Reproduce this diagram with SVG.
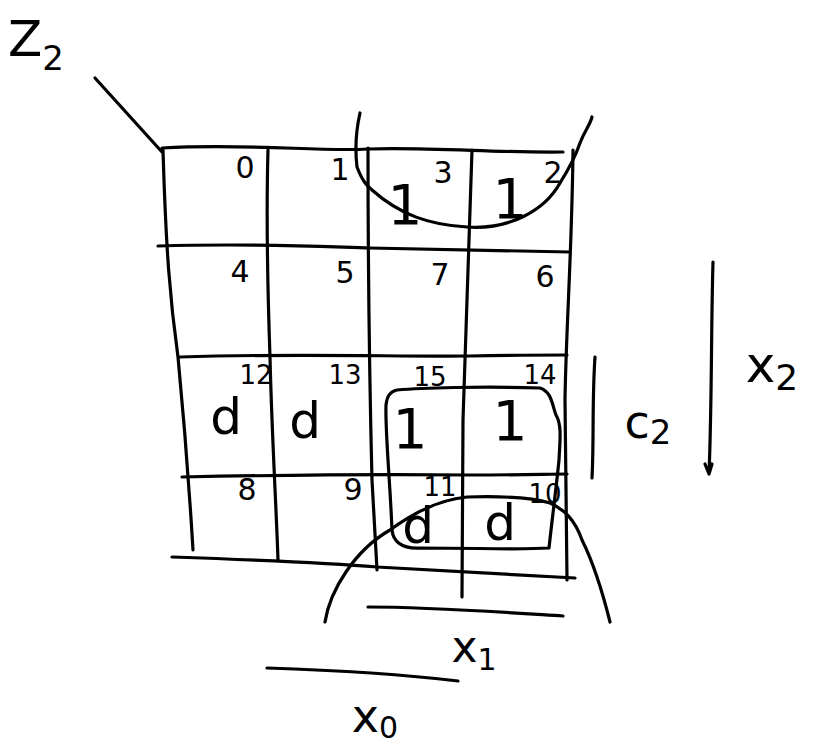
<svg xmlns="http://www.w3.org/2000/svg" width="819" height="744" viewBox="0 0 819 744">
<style>
.s{fill:none;stroke:#000;stroke-width:3.2;stroke-linecap:round;stroke-linejoin:round}
text{font-family:"DejaVu Sans","Liberation Sans",sans-serif;fill:#000;text-anchor:middle}
.n{font-size:30px}
.b{font-size:55px}
.d{font-size:50px}
.sm{font-size:26px}
</style>
<rect width="819" height="744" fill="#fff"/>
<g id="grid">
<path class="s" d="M95,78 L162,152"/>
<path class="s" d="M162,148 C250,143 320,152 368,149 C430,147 500,153 563,152"/>
<path class="s" d="M158,246 C260,243 330,247 370,248 C450,250 510,251 570,252"/>
<path class="s" d="M180,357 C300,353 400,357 470,356 C510,355 545,355 567,355"/>
<path class="s" d="M182,477 C280,475 380,474 470,475 C520,475 550,474 567,474"/>
<path class="s" d="M172,557 C260,560 330,563 377,567 C460,572 530,575 575,578"/>
<path class="s" d="M163,150 C166,250 170,300 178,357 C185,430 190,500 193,550"/>
<path class="s" d="M268,150 C266,220 268,300 270,357 C272,440 276,500 278,560"/>
<path class="s" d="M368,148 C368,250 370,400 372,480 C374,520 376,550 377,570"/>
<path class="s" d="M472,150 C469,250 465,350 463,420 C462,500 462,560 462,597"/>
<path class="s" d="M573,150 C572,250 566,330 565,400 C566,480 567,540 567,580"/>
</g>
<g id="groups">
<path class="s" d="M360,113 C355,135 355,150 357,167 C362,180 366,185 372,190 C400,215 430,225 467,227 C510,230 545,210 560,183 C570,167 576,155 580,143 C585,130 590,125 592,117"/>
<path class="s" d="M397,390 C420,388 480,386 540,388 C552,392 552,405 556,415 C562,425 560,440 559,460 C556,490 552,520 549,548 C520,550 480,548 420,548 C400,549 393,540 392,530 C390,480 385,430 386,405 C387,395 391,391 397,390"/>
<path class="s" d="M325,622 C330,590 355,550 390,530 C420,508 445,499 467,497 C500,496 530,497 550,503 C565,510 575,520 582,540 C592,560 602,590 610,622"/>
</g>
<g id="cells">
<text class="n" x="245" y="178">0</text>
<text class="n" x="340" y="180">1</text>
<text class="n" x="443" y="183">3</text>
<text class="n" x="553" y="183">2</text>
<text class="b" x="405" y="224">1</text>
<text class="b" x="510" y="218">1</text>
<text class="n" x="240" y="282">4</text>
<text class="n" x="345" y="283">5</text>
<text class="n" x="440" y="285">7</text>
<text class="n" x="545" y="287">6</text>
<text class="sm" x="256" y="384">12</text>
<text class="d" x="226" y="434">d</text>
<text class="sm" x="345" y="384">13</text>
<text class="d" x="305" y="438">d</text>
<text class="sm" x="430" y="386">15</text>
<text class="b" x="410" y="448">1</text>
<text class="sm" x="540" y="384">14</text>
<text class="b" x="510" y="440">1</text>
<text class="n" x="247" y="500">8</text>
<text class="n" x="353" y="500">9</text>
<text class="sm" x="440" y="496">11</text>
<text class="d" x="418" y="543">d</text>
<text class="sm" x="545" y="503">10</text>
<text class="d" x="500" y="540">d</text>
</g>
<g id="axes">
<path class="s" d="M595,357 C592,400 594,440 592,478"/>
<path class="s" d="M713,262 C711,330 712,400 709,474 M705,464 L709,474 L712,464"/>
<path class="s" d="M368,607 C430,607 500,612 563,616"/>
<path class="s" d="M267,668 C330,670 400,674 458,681"/>
</g>
<g id="labels">
<text x="8" y="56" style="font-size:50px;text-anchor:start">Z<tspan dy="14" style="font-size:34px">2</tspan></text>
<text x="648" y="438" style="font-size:46px">c<tspan dy="6" style="font-size:34px">2</tspan></text>
<text x="772" y="382" style="font-size:50px">x<tspan dy="8" style="font-size:36px">2</tspan></text>
<text x="474" y="662" style="font-size:44px">x<tspan dy="8" style="font-size:30px">1</tspan></text>
<text x="375" y="732" style="font-size:46px">x<tspan dy="6" style="font-size:30px">0</tspan></text>
</g>
</svg>
